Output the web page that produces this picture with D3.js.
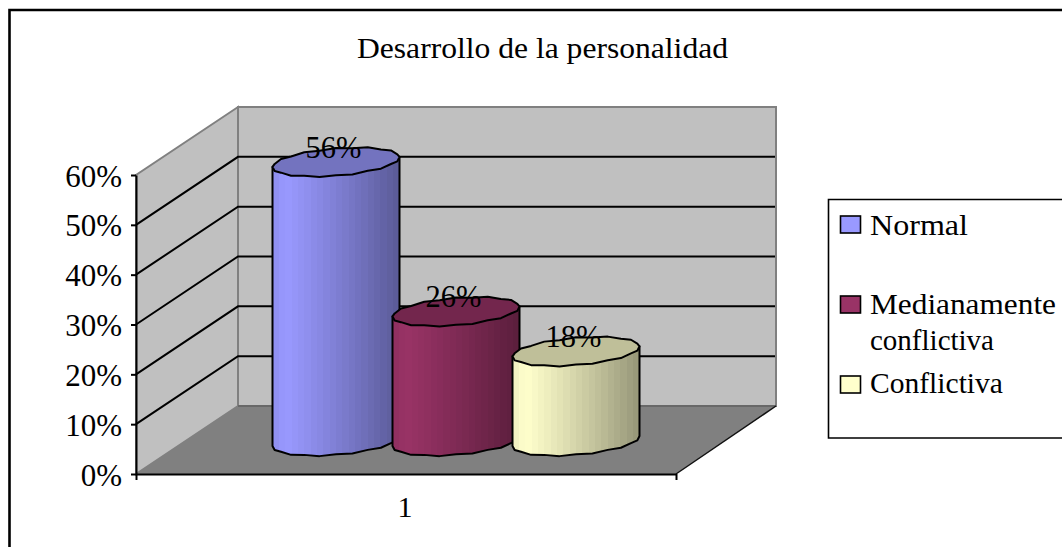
<!DOCTYPE html>
<html><head><meta charset="utf-8">
<script src="https://cdn.jsdelivr.net/npm/d3@7"></script>
<style>html,body{margin:0;padding:0;background:#fff;overflow:hidden}svg{display:block}text{font-family:"Liberation Serif",serif;fill:#000}</style>
</head><body><svg id="c" width="1062" height="547"></svg>
<script>
const chartTitle = "Desarrollo de la personalidad";
const categories = ["1"];
const seriesNames = ["Normal", "Medianamente conflictiva", "Conflictiva"];
const seriesValues = [0.56, 0.26, 0.18];
const seriesColors = ["#9999FF", "#993366", "#FFFFCC"];
const yTickValues = [0, 0.1, 0.2, 0.3, 0.4, 0.5, 0.6];

const svg = d3.select("#c");
const depth = {dx: 102, dy: -68};
const y = d3.scaleLinear().domain([0, 0.6]).range([474, 175]);
const xCat = d3.scaleBand().domain(categories).range([136, 676]);
const xBar = d3.scaleBand().domain(seriesNames).range([276, 636]);
const line = d3.line();

// frame
svg.append("path").attr("d", "M9.5,547V10H1062").attr("fill", "none").attr("stroke", "#000").attr("stroke-width", 2.6);

// title
svg.append("text").attr("x", 357).attr("y", 58).attr("font-size", 30)
  .attr("textLength", 371).attr("lengthAdjust", "spacingAndGlyphs").text(chartTitle);

// walls
const x0 = xCat.range()[0], x1 = xCat.range()[1];
const yTop = y(0.6), yBase = y(0);
const bx0 = x0 + depth.dx, bx1 = x1 + 100;
svg.append("path").attr("d", line([[x0,yBase],[x0,yTop],[bx0,yTop+depth.dy],[bx0,yBase+depth.dy]])+"Z")
  .attr("fill", "#C0C0C0").attr("stroke", "#808080").attr("stroke-width", 2);
svg.append("path").attr("d", line([[bx0,yTop+depth.dy],[bx1,yTop+depth.dy],[bx1,yBase+depth.dy],[bx0,yBase+depth.dy]])+"Z")
  .attr("fill", "#C0C0C0").attr("stroke", "#808080").attr("stroke-width", 2);
svg.append("path").attr("d", line([[x0,yBase],[bx0,yBase+depth.dy],[bx1,yBase+depth.dy],[x1,yBase]])+"Z")
  .attr("fill", "#808080");
svg.append("path").attr("d", line([[bx0,yBase+depth.dy],[bx1,yBase+depth.dy]])).attr("stroke", "#606060").attr("stroke-width", 1.5).attr("fill","none");
svg.append("path").attr("d", line([[x1,yBase],[bx1,yBase+depth.dy]])).attr("stroke", "#111").attr("stroke-width", 1.5).attr("fill","none");

// gridlines
svg.append("g").selectAll("path").data(yTickValues.filter(v => v > 0 && v < 0.6)).join("path")
  .attr("d", v => line([[x0,y(v)],[bx0,y(v)+depth.dy],[bx1-1,y(v)+depth.dy]]))
  .attr("fill", "none").attr("stroke", "#000").attr("stroke-width", 2);

// axes
const axisL = svg.append("g").attr("transform", `translate(${x0},0)`)
  .call(d3.axisLeft(y).tickValues(yTickValues).tickFormat(d3.format(".0%")).tickSize(5).tickSizeOuter(0).tickPadding(9));
axisL.selectAll("text").attr("font-size", 31).attr("dy", 0).attr("y", 11).attr("font-family", '"Liberation Serif",serif');
axisL.selectAll("line,path").attr("stroke", "#000").attr("stroke-width", 2);
const axisB = svg.append("g").attr("transform", `translate(0,${yBase})`)
  .call(d3.axisBottom(d3.scaleLinear().domain([0,1]).range([x0,x1])).tickValues([0,1]).tickFormat("").tickSize(6).tickSizeOuter(0));
axisB.selectAll("line,path").attr("stroke", "#000").attr("stroke-width", 2);
svg.append("text").attr("x", xCat(categories[0]) + xCat.bandwidth()/2 - 1).attr("y", 517)
  .attr("text-anchor", "middle").attr("font-size", 30).text(categories[0]);

// cylinders (lightly faceted outline like the reference)
const defs = svg.append("defs");
const A = 63.5, FACETS = 24;
function ring(cx, cy, from, to) {
  const pts = [];
  for (let i = from; i <= to; i++) {
    const t = i / FACETS * 2 * Math.PI;
    const wob = (i % (FACETS / 2) === 0) ? 0 : (i % 2 ? 0.7 : -0.4);
    pts.push([cx + A * Math.cos(t), cy - 5 * Math.cos(t) - 13.6 * Math.sin(t) + wob]);
  }
  return pts;
}
const baseY = yBase - 33;
seriesNames.forEach((name, i) => {
  const v = seriesValues[i], col = d3.color(seriesColors[i]);
  const cx = xBar(name) + xBar.bandwidth()/2;
  const cyTop = baseY - (yBase - y(v));
  const gid = "g" + i;
  const grad = defs.append("linearGradient").attr("id", gid);
  const BANDS = 20, shade = f => d3.interpolateRgb(col, d3.rgb(col.r*0.6, col.g*0.6, col.b*0.6))(f);
  for (let b = 0; b < BANDS; b++) {
    const f = b / (BANDS - 1);
    let c = f < 0.08 ? d3.interpolateRgb(d3.rgb(col.r*0.95,col.g*0.95,col.b*0.95), col)(f/0.08) : shade(Math.pow((f-0.08)/0.92, 1.1));
    grad.append("stop").attr("offset", b/BANDS).attr("stop-color", c);
    grad.append("stop").attr("offset", (b+1)/BANDS).attr("stop-color", c);
  }
  const lowerBottom = ring(cx, baseY, FACETS/2, FACETS);
  const body = [[cx - A, cyTop + 5], ...lowerBottom, [cx + A, cyTop - 5]];
  svg.append("path").attr("d", line(body) + "Z").attr("fill", `url(#${gid})`)
    .attr("stroke", "#000").attr("stroke-width", 2).attr("stroke-linejoin", "round");
  svg.append("path").attr("d", line(ring(cx, cyTop, 0, FACETS)) + "Z")
    .attr("fill", d3.rgb(col.r*0.75, col.g*0.75, col.b*0.75))
    .attr("stroke", "#000").attr("stroke-width", 2).attr("stroke-linejoin", "round");
});
// data labels
seriesNames.forEach((name, i) => {
  const v = seriesValues[i];
  const cx = xBar(name) + xBar.bandwidth()/2;
  svg.append("text").attr("x", cx - 2.5).attr("y", baseY - (yBase - y(v)) - 4)
    .attr("text-anchor", "middle").attr("font-size", 30.5).text(d3.format(".0%")(v));
});

// legend
svg.append("path").attr("d", "M1062,199.5H828.5V438H1062").attr("fill", "#fff").attr("stroke", "#000").attr("stroke-width", 1.6);
const legendSwatchY = d3.scalePoint().domain(seriesNames).range([216, 376]);
seriesNames.forEach(name => {
  svg.append("rect").attr("x", 840.5).attr("y", legendSwatchY(name)).attr("width", 20).attr("height", 17)
    .attr("fill", seriesColors[seriesNames.indexOf(name)]).attr("stroke", "#000").attr("stroke-width", 1.6);
});
const legendLines = [["Normal",235,98],["Medianamente",314,186],["conflictiva",350,124],["Conflictiva",393,133]];
legendLines.forEach(([t, by, w]) => {
  svg.append("text").attr("x", 870).attr("y", by).attr("font-size", 30)
    .attr("textLength", w).attr("lengthAdjust", "spacingAndGlyphs").text(t);
});
</script></body></html>
